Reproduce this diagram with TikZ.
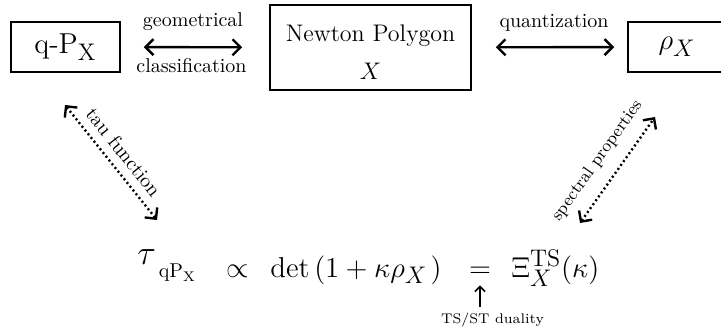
\documentclass[tikz,border=0pt]{standalone}
\usetikzlibrary{arrows.meta}
\DeclareMathSizes{14.4}{14.4}{12}{10}
\begin{document}
\begin{tikzpicture}[x=0.5pt,y=-0.5pt,
  box/.style={draw, line width=0.8pt, inner sep=0pt},
  biarrow/.style={{Straight Barb[length=4pt,width=8pt]}-{Straight Barb[length=4pt,width=8pt]}, line width=1.2pt},
  dotarrow/.style={biarrow, dash pattern=on 1pt off 1.4pt},
  upar/.style={-{Straight Barb[length=2.5pt,width=5pt]}, line width=0.8pt},
  lbl/.style={font=\normalsize, inner sep=0pt},
  eq/.style={font=\Large, inner sep=0pt, anchor=base west}]
\useasboundingbox (0,0) rectangle (721,331);
% boxes
\node[box, minimum width=54.5pt, minimum height=25pt] (qp) at (65.5,47) {\Large q-P$_\mathrm{X}$};
\node[box, minimum width=100.5pt, minimum height=42.5pt] (np) at (370.5,47.5) {};
\node[anchor=base, inner sep=0pt, font=\large] (npt) at (370.5,41.5) {Newton Polygon};
\node[anchor=base, inner sep=0pt, font=\large] (npx) at (370.5,80) {$X$};
\node[box, minimum width=49pt, minimum height=25pt] (rho) at (677,47) {\Large $\rho_X$};
% horizontal arrows
\draw[biarrow, shorten <=11.5pt, shorten >=13.5pt] (qp) -- (np);
\draw[biarrow, shorten <=12pt, shorten >=6.5pt] (np) -- (rho);
\node[lbl, anchor=base] (geo) at (193,27) {geometrical};
\node[lbl, anchor=base] (cls) at (191.5,73) {classification};
\node[lbl, anchor=base] (qua) at (554,28) {quantization};
% equation
\node[eq] (tau) at (137,277) {\raisebox{6.5pt}{\LARGE$\tau$}\kern1.5pt{\normalsize$\mathrm{qP}_\mathrm{X}$}};
\node[eq] (prop) at (226,277) {$\propto$};
\node[eq] (det) at (270,277) {$\det\,\bigl(1+\kappa\rho_X\mkern2mu\bigr)$};
\node[eq, anchor=base] (eqs) at (480,277) {$=$};
\node[eq] (xi) at (511,277) {$\Xi^{\mathrm{TS}}_X(\kappa)$};
% duality
\node[anchor=base, inner sep=0pt, font=\scriptsize] (dual) at (492.5,323) {TS/ST duality};
\draw[upar, shorten <=2.5pt, shorten >=4pt] (dual.north -| eqs.south) -- (eqs.south);
% diagonal arrows
\coordinate (tfA) at (65,105);
\coordinate (tfB) at (157,220);
\coordinate (spA) at (580,223);
\coordinate (spB) at (655,117);
\draw[dotarrow] (tfA) -- (tfB) node[midway, sloped, above=4pt, inner sep=0pt, font=\normalsize] (tf) {tau function};
\draw[dotarrow] (spA) -- (spB) node[pos=0.47, sloped, above=6.5pt, inner sep=0pt, font=\fontsize{8.6}{10}\selectfont] (sp) {spectral properties};
\end{tikzpicture}
\end{document}
